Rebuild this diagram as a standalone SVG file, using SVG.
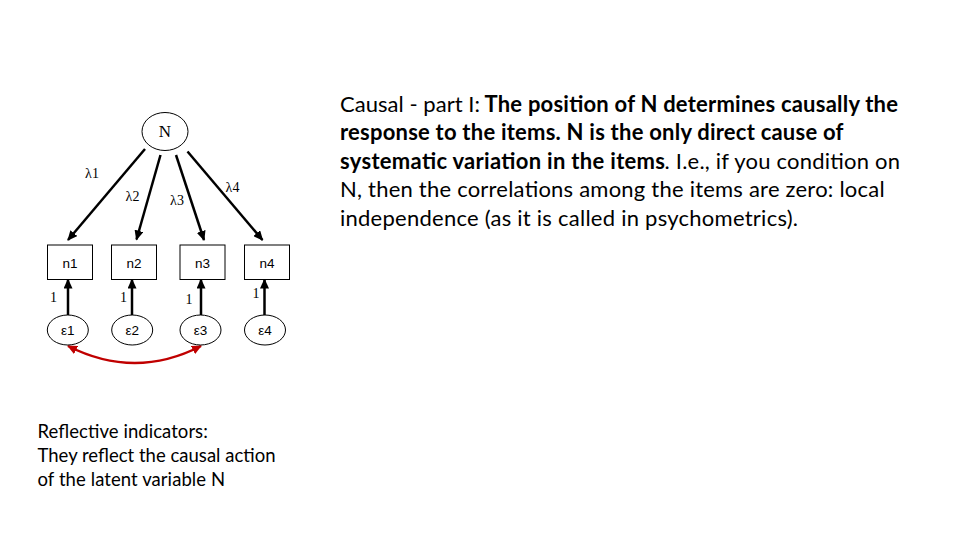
<svg xmlns="http://www.w3.org/2000/svg" width="960" height="540" viewBox="0 0 960 540">
<defs>
<style>
.serif{font-family:"Liberation Serif","Times New Roman",serif;fill:#000}
.sans{font-family:"Liberation Sans",Arial,sans-serif;fill:#000;font-size:13.5px;text-anchor:middle}
.body{font-family:Lato,"Open Sans",sans-serif;fill:#000;font-size:22px}
.b{font-weight:bold}
.small{font-family:Lato,"Open Sans",sans-serif;fill:#000;font-size:18.5px}
.box{fill:#fff;stroke:#000;stroke-width:1}
.ell{fill:#fff;stroke:#000;stroke-width:1}
.lam{font-size:14px;text-anchor:middle}
.one{font-size:14px;text-anchor:middle}
.arr{stroke:#000;stroke-width:2.5;fill:none;marker-end:url(#ah)}
.cov{stroke:#c00000;stroke-width:2.5;fill:none;marker-start:url(#rh);marker-end:url(#rh)}
</style>
<marker id="ah" markerUnits="userSpaceOnUse" markerWidth="10" markerHeight="9" refX="9" refY="4.5" orient="auto"><path d="M0,0 L10,4.5 L0,9 z" fill="#000"/></marker>
<marker id="rh" markerUnits="userSpaceOnUse" markerWidth="10" markerHeight="9" refX="9" refY="4.5" orient="auto-start-reverse"><path d="M0,0 L10,4.5 L0,9 z" fill="#c00000"/></marker>
</defs>
<rect width="960" height="540" fill="#fff"/>

<g id="connectors">
<line class="arr" x1="145" y1="149" x2="68" y2="240"/>
<line class="arr" x1="160.5" y1="155" x2="136.5" y2="239.5"/>
<line class="arr" x1="176" y1="155" x2="204" y2="240"/>
<line class="arr" x1="187.5" y1="151.5" x2="262.5" y2="240"/>
<line class="arr" x1="68" y1="315" x2="68" y2="279.5"/>
<line class="arr" x1="132" y1="315" x2="132" y2="279.5"/>
<line class="arr" x1="201" y1="315" x2="201" y2="279.5"/>
<line class="arr" x1="264.5" y1="315" x2="264.5" y2="279.5"/>
<path class="cov" d="M68,346 Q135,380 201,346"/>
</g>

<g id="N"><ellipse class="ell" cx="165" cy="131.5" rx="23" ry="19"/><text class="serif" x="165" y="137" font-size="17" text-anchor="middle">N</text></g>

<g id="loadings" class="serif">
<text class="lam" x="92" y="177.5">λ1</text>
<text class="lam" x="132.5" y="201">λ2</text>
<text class="lam" x="177" y="205">λ3</text>
<text class="lam" x="232.5" y="191.5">λ4</text>
</g>

<g id="n1"><rect class="box" x="47.5" y="245" width="45" height="34.5"/><text class="sans" x="70" y="268">n1</text></g>
<g id="n2"><rect class="box" x="111.5" y="245" width="45" height="34.5"/><text class="sans" x="134" y="268">n2</text></g>
<g id="n3"><rect class="box" x="180" y="245" width="45" height="34.5"/><text class="sans" x="202.5" y="268">n3</text></g>
<g id="n4"><rect class="box" x="244.5" y="245" width="45" height="34.5"/><text class="sans" x="267" y="268">n4</text></g>

<g id="ones" class="serif">
<text class="one" x="53.5" y="301.5">1</text>
<text class="one" x="123.5" y="301.5">1</text>
<text class="one" x="189" y="304">1</text>
<text class="one" x="256" y="298">1</text>
</g>

<g id="e1"><ellipse class="ell" cx="67.8" cy="330" rx="20.5" ry="15"/><text class="sans" x="67.8" y="335">ε1</text></g>
<g id="e2"><ellipse class="ell" cx="132.2" cy="330" rx="20.5" ry="15"/><text class="sans" x="132.2" y="335">ε2</text></g>
<g id="e3"><ellipse class="ell" cx="200.5" cy="330" rx="20.5" ry="15"/><text class="sans" x="200.5" y="335">ε3</text></g>
<g id="e4"><ellipse class="ell" cx="265" cy="330" rx="20.5" ry="15"/><text class="sans" x="265" y="335">ε4</text></g>

<g id="caption-right">
<text class="body" x="340" y="111.5" textLength="140">Causal - part I:</text>
<text class="body b" x="484.5" y="111.5" textLength="413.5">The position of N determines causally the</text>
<text class="body b" x="340" y="140" textLength="503.4">response to the items. N is the only direct cause of</text>
<text class="body b" x="340" y="168.5" textLength="325">systematic variation in the items</text>
<text class="body" x="664.5" y="168.5" textLength="235.5">. I.e., if you condition on</text>
<text class="body" x="340" y="197" textLength="544.6">N, then the correlations among the items are zero: local</text>
<text class="body" x="340" y="225.5" textLength="458">independence (as it is called in psychometrics).</text>
</g>

<g id="caption-left">
<text class="small" x="37.5" y="437.5" textLength="170.3">Reflective indicators:</text>
<text class="small" x="37.5" y="461.5" textLength="238">They reflect the causal action</text>
<text class="small" x="37.5" y="485.5" textLength="187.6">of the latent variable N</text>
</g>
</svg>
